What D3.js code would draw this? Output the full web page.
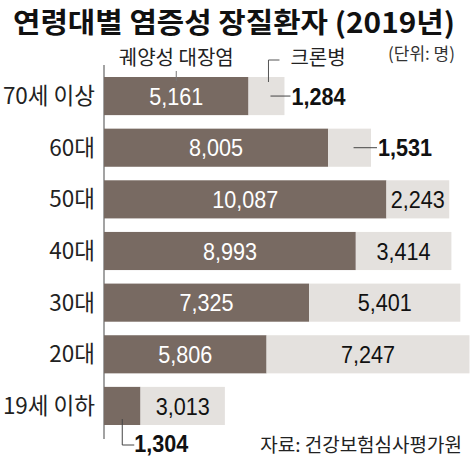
<!DOCTYPE html>
<html>
<head>
<meta charset="utf-8">
<script src="https://cdn.jsdelivr.net/npm/d3@7"></script>
<style>
  body { margin: 0; background: #fff; }
  svg { display: block; }
</style>
</head>
<body>
<div id="chart"></div>
<script>
const categories = ["70세 이상", "60대", "50대", "40대", "30대", "20대", "19세 이하"];
const ucValues = [5161, 8005, 10087, 8993, 7325, 5806, 1304];
const crohnValues = [1284, 1531, 2243, 3414, 5401, 7247, 3013];
const seriesNames = ["궤양성 대장염", "크론병"];

const w = 470;
const h = 458;
const darkColor = "#786a62";
const lightColor = "#e4e1de";
const lineColor = "#666";
const krFont = "'Noto Sans CJK KR', 'Noto Sans', sans-serif";
const numFont = "'Liberation Sans', Arial, sans-serif";

const svg = d3.select("#chart")
  .append("svg")
  .attr("width", w)
  .attr("height", h)
  .style("background", "#fff");

const x = d3.scaleLinear().domain([0, 13000]).range([104, 468]);
const y = d3.scaleBand().domain(categories).range([77, 425]).paddingInner(0.262);

const rows = categories.map((c, i) => ({
  cat: c,
  uc: ucValues[i],
  crohn: crohnValues[i],
}));

const fmt = d3.format(",");
const minInside = 55;

// numbers are squeezed a bit to look like the narrow newspaper face
function addNumber(sel, xFn, yFn, opts) {
  return sel.append("text")
    .attr("transform", (d) => `translate(${xFn(d)},${yFn(d)}) scale(0.9,1)`)
    .attr("dy", opts.dy || "0.36em")
    .attr("text-anchor", opts.anchor || "middle")
    .style("font-family", numFont)
    .style("font-size", "24px")
    .style("font-weight", opts.weight || "400")
    .style("fill", opts.fill || "#111")
    .text(opts.text);
}

// title
svg.append("text")
  .attr("x", 13)
  .attr("y", 33)
  .attr("textLength", 442)
  .attr("lengthAdjust", "spacingAndGlyphs")
  .style("font-family", krFont)
  .style("font-size", "28px")
  .style("font-weight", "700")
  .style("fill", "#111")
  .text("연령대별 염증성 장질환자 (2019년)");

svg.append("text")
  .attr("x", 455)
  .attr("y", 60)
  .attr("text-anchor", "end")
  .style("font-family", krFont)
  .style("font-size", "17px")
  .style("fill", "#333")
  .text("(단위: 명)");

// axis line
svg.append("line")
  .attr("x1", x(0)).attr("x2", x(0))
  .attr("y1", 65).attr("y2", 439)
  .attr("stroke", lineColor)
  .attr("stroke-width", 1.2);

const row = svg.selectAll(".row")
  .data(rows)
  .enter()
  .append("g")
  .attr("class", "row");

row.append("rect")
  .attr("x", x(0))
  .attr("y", (d) => y(d.cat))
  .attr("width", (d) => x(d.uc) - x(0))
  .attr("height", y.bandwidth())
  .attr("fill", darkColor);

row.append("rect")
  .attr("x", (d) => x(d.uc))
  .attr("y", (d) => y(d.cat))
  .attr("width", (d) => x(d.uc + d.crohn) - x(d.uc))
  .attr("height", y.bandwidth())
  .attr("fill", lightColor);

row.append("text")
  .attr("x", 95)
  .attr("y", (d) => y(d.cat) + y.bandwidth() / 2)
  .attr("dy", "0.36em")
  .attr("text-anchor", "end")
  .style("font-family", krFont)
  .style("font-size", "22.5px")
  .style("fill", "#222")
  .text((d) => d.cat);

const midY = (d) => y(d.cat) + y.bandwidth() / 2;

// uc values inside dark bar
addNumber(
  row.filter((d) => x(d.uc) - x(0) >= minInside),
  (d) => (x(0) + x(d.uc)) / 2, midY,
  { fill: "#fff", text: (d) => fmt(d.uc) }
);

// crohn values inside light bar
addNumber(
  row.filter((d) => x(d.uc + d.crohn) - x(d.uc) >= minInside),
  (d) => (x(d.uc) + x(d.uc + d.crohn)) / 2, midY,
  { fill: "#111", text: (d) => fmt(d.crohn) }
);

// crohn callouts to the right
const outRight = row.filter((d) => x(d.uc + d.crohn) - x(d.uc) < minInside);
outRight.append("line")
  .attr("x1", (d) => (x(d.uc) + x(d.uc + d.crohn)) / 2 + 4)
  .attr("x2", (d) => x(d.uc + d.crohn) + 6)
  .attr("y1", midY)
  .attr("y2", midY)
  .attr("stroke", "#444")
  .attr("stroke-width", 1);
addNumber(
  outRight,
  (d) => x(d.uc + d.crohn) + 7, midY,
  { anchor: "start", weight: "700", text: (d) => fmt(d.crohn) }
);

// uc callouts below
const outBelow = row.filter((d) => x(d.uc) - x(0) < minInside);
outBelow.append("path")
  .attr("d", (d) => {
    const cx = (x(0) + x(d.uc)) / 2;
    const top = y(d.cat) + y.bandwidth() - 6;
    const bot = y(d.cat) + y.bandwidth() + 20;
    return `M${cx},${top}V${bot}H${cx + 12}`;
  })
  .attr("fill", "none")
  .attr("stroke", "#444")
  .attr("stroke-width", 1);
addNumber(
  outBelow,
  (d) => (x(0) + x(d.uc)) / 2 + 12, (d) => y(d.cat) + y.bandwidth() + 20,
  { anchor: "start", weight: "700", dy: "0.3em", text: (d) => fmt(d.uc) }
);

// legend callouts on the first bar
const first = rows[0];
const legendY = 65;
const ucMid = (x(0) + x(first.uc)) / 2;
svg.append("text")
  .attr("x", ucMid)
  .attr("y", legendY)
  .attr("text-anchor", "middle")
  .style("font-family", krFont)
  .style("font-size", "20px")
  .style("fill", "#222")
  .text(seriesNames[0]);
svg.append("line")
  .attr("x1", ucMid).attr("x2", ucMid)
  .attr("y1", legendY + 6).attr("y2", y(first.cat) + 4)
  .attr("stroke", "#777")
  .attr("stroke-width", 1);

const crMid = (x(first.uc) + x(first.uc + first.crohn)) / 2 + 2;
svg.append("path")
  .attr("d", `M${crMid},${y(first.cat) + 5}V${legendY - 5}H${crMid + 11}`)
  .attr("fill", "none")
  .attr("stroke", "#555")
  .attr("stroke-width", 1);
svg.append("text")
  .attr("x", crMid + 22)
  .attr("y", legendY)
  .style("font-family", krFont)
  .style("font-size", "20px")
  .style("fill", "#222")
  .text(seriesNames[1]);

// source
svg.append("text")
  .attr("x", 462)
  .attr("y", 452)
  .attr("text-anchor", "end")
  .style("font-family", krFont)
  .style("font-size", "19px")
  .style("fill", "#222")
  .text("자료: 건강보험심사평가원");
</script>
</body>
</html>
